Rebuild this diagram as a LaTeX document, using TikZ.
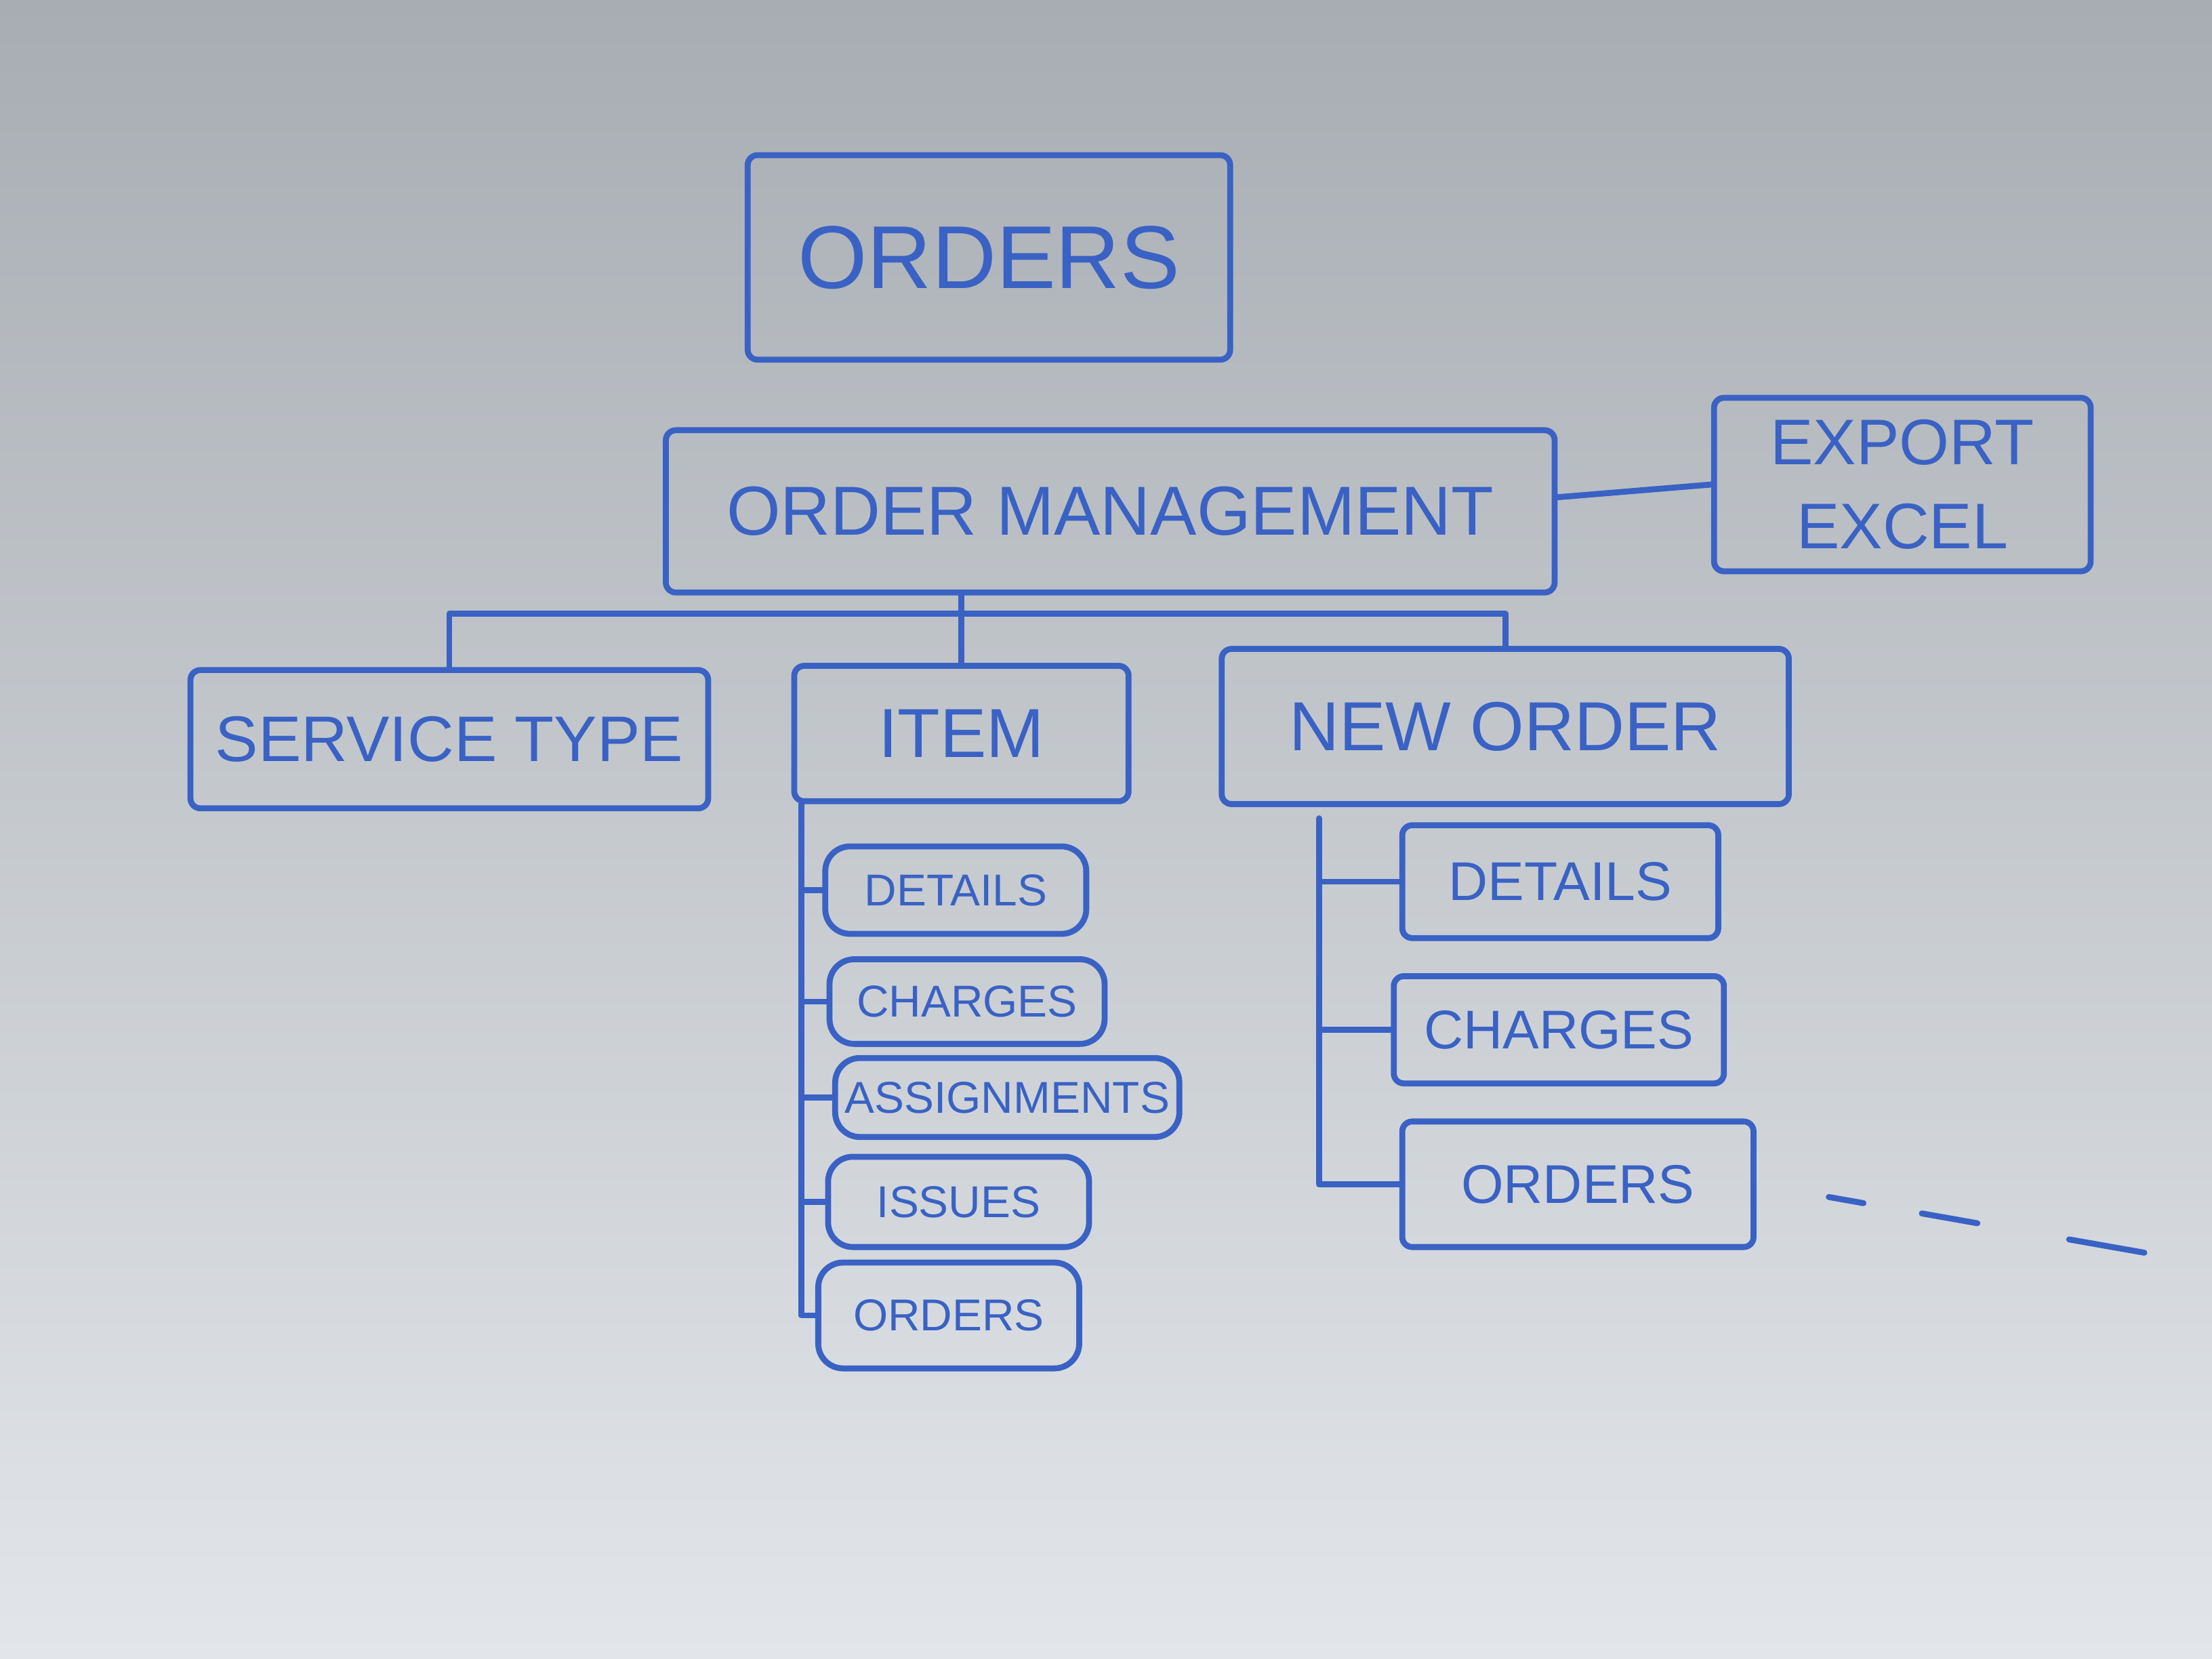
\documentclass[tikz,border=0pt]{standalone}
\usepackage{fontspec}
\setmainfont{Liberation Sans}
\usepackage{tikz}
\definecolor{marker}{RGB}{58,98,196}
\definecolor{boardtop}{RGB}{168,173,179}
\definecolor{boardmid}{RGB}{212,217,223}
\definecolor{boardlow}{RGB}{226,230,234}

\begin{document}
\begin{tikzpicture}[
    ink/.style={draw=marker, line width=1.2pt, line cap=round, line join=round},
    box/.style={ink, rounded corners=2pt, text=marker, inner sep=0pt, align=center},
    subbox/.style={box, rounded corners=5pt},
    big/.style={font=\fontsize{18}{20}\selectfont},
    mid/.style={font=\fontsize{14}{16}\selectfont},
    small/.style={font=\fontsize{11}{13}\selectfont},
    tiny/.style={font=\fontsize{9}{11}\selectfont}
]
    % Draw the board
    \shade[top color=boardtop, middle color=boardmid, bottom color=boardlow] (0,0) rectangle (15.68,11.76);
    \useasboundingbox (0,0) rectangle (15.68,11.76);

    % Draw the top levels
    \node[box, big, minimum width=3.42cm, minimum height=1.45cm] (orders) at (7.01,9.935) {ORDERS};
    \node[box, mid, minimum width=6.30cm, minimum height=1.15cm] (om) at (7.87,8.135) {ORDER MANAGEMENT};
    \node[box, font=\fontsize{13}{17}\selectfont, minimum width=2.67cm, minimum height=1.23cm] (ee) at (13.485,8.325) {EXPORT\\EXCEL};

    \node[box, font=\fontsize{13}{15}\selectfont, minimum width=3.67cm, minimum height=0.98cm] (st) at (3.185,6.52) {SERVICE TYPE};
    \node[box, mid, minimum width=2.37cm, minimum height=0.96cm] (item) at (6.815,6.56) {ITEM};
    \node[box, mid, minimum width=4.02cm, minimum height=1.10cm] (no) at (10.67,6.61) {NEW ORDER};

    % Draw the item children
    \node[subbox, tiny, minimum width=1.85cm, minimum height=0.62cm] (id) at (6.775,5.45) {DETAILS};
    \node[subbox, tiny, minimum width=1.95cm, minimum height=0.60cm] (ic) at (6.855,4.66) {CHARGES};
    \node[subbox, tiny, minimum width=2.44cm, minimum height=0.56cm] (ia) at (7.14,3.98) {ASSIGNMENTS};
    \node[subbox, tiny, minimum width=1.85cm, minimum height=0.64cm] (ii) at (6.795,3.24) {ISSUES};
    \node[subbox, tiny, minimum width=1.85cm, minimum height=0.75cm] (io) at (6.725,2.435) {ORDERS};

    % Draw the new order children
    \node[box, small, minimum width=2.24cm, minimum height=0.80cm] (nd) at (11.06,5.51) {DETAILS};
    \node[box, small, minimum width=2.34cm, minimum height=0.76cm] (nc) at (11.05,4.46) {CHARGES};
    \node[box, small, minimum width=2.49cm, minimum height=0.89cm] (nr) at (11.185,3.365) {ORDERS};

    % Connectors
    \coordinate (bus) at (0,7.41);
    \coordinate (ispine) at (5.68,0);
    \coordinate (nspine) at (9.35,0);
    \coordinate (more) at (15.2,2.88);

    \draw[ink] ([yshift=1mm]om.east) -- (ee.west);
    \draw[ink] (item.north) -- (item.north |- om.south);
    \draw[ink] (st.north) -- (st.north |- bus) -- (no.north |- bus) -- (no.north);

    \draw[ink] (ispine |- item.south) -- (ispine |- io.west) -- (io.west);
    \foreach \n in {id, ic, ia, ii}
        \draw[ink] (ispine |- \n.west) -- (\n.west);

    \draw[ink] ([yshift=-0.08cm]nspine |- no.south) -- (nspine |- nr.west) -- (nr.west);
    \foreach \n in {nd, nc}
        \draw[ink] (nspine |- \n.west) -- (\n.west);

    \draw[ink, dash pattern=on 0.25cm off 0.42cm on 0.4cm off 0.66cm on 0.55cm off 2cm, shorten <=0.52cm] (nr.east) -- (more);
\end{tikzpicture}
\end{document}
